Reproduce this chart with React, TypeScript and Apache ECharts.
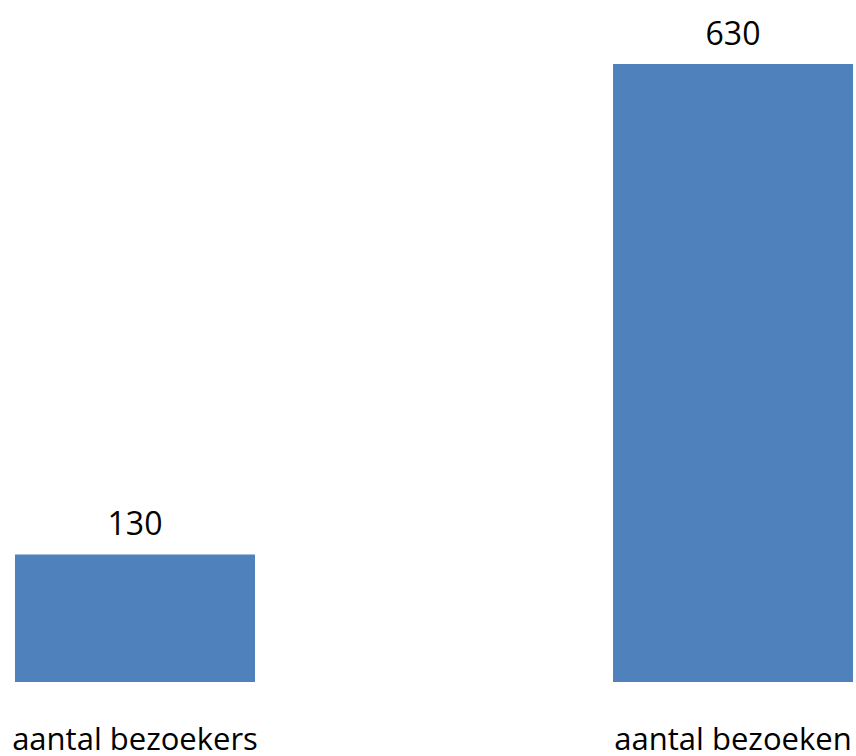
import React, { useEffect, useRef } from "react";
import * as echarts from "echarts";

const categories = ["aantal bezoekers", "aantal bezoeken"];
const values = [130, 630];

export default function App() {
  const ref = useRef<HTMLDivElement>(null);
  useEffect(() => {
    const chart = echarts.init(ref.current!, null, { renderer: "svg" });
    chart.setOption({
      animation: false,
      grid: { left: 135, right: 123, top: 64, bottom: 74, containLabel: false },
      xAxis: {
        type: "category",
        data: categories,
        boundaryGap: false,
        axisLine: { show: false },
        axisTick: { show: false },
        axisLabel: {
          fontFamily: "Open Sans",
          fontSize: 31,
          color: "#000",
          margin: 40,
          interval: 0,
        },
      },
      yAxis: {
        type: "value",
        min: 0,
        max: 630,
        show: false,
        splitLine: { show: false },
      },
      series: [
        {
          type: "bar",
          data: values,
          barWidth: 240,
          clip: false,
          itemStyle: { color: "#4F81BD" },
          label: {
            show: true,
            position: "top",
            distance: 16,
            fontFamily: "Open Sans",
            fontSize: 32,
            color: "#000",
          },
        },
      ],
    });
    return () => chart.dispose();
  }, []);
  return (
    <div
      ref={ref}
      style={{ position: "absolute", left: 0, top: 0, width: 856, height: 756 }}
    />
  );
}
